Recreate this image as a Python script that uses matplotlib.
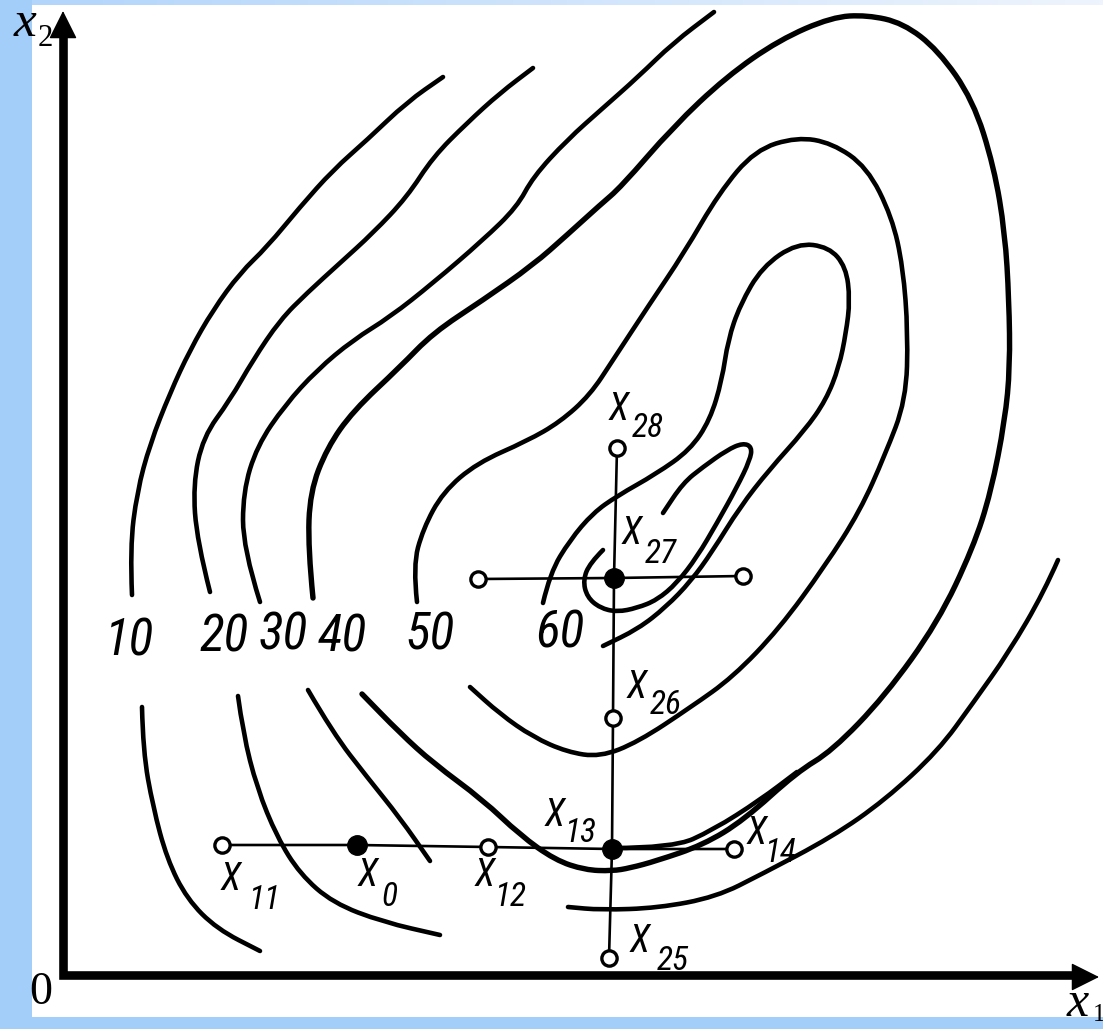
import numpy as np
import matplotlib
matplotlib.use('Agg')
import matplotlib.pyplot as plt
from matplotlib import font_manager
from matplotlib.path import Path
from matplotlib.patches import PathPatch

# ---- contour pieces (x1, x2 from the origin) ----
c10_upper = np.array([(69, 380), (67, 427), (74, 483), (87, 531), (107, 582), (127, 625),
                      (150, 665), (177, 702), (204, 728), (237, 768), (270, 805), (304, 835),
                      (344, 873), (380, 898)])
c10_lower = np.array([(79, 268), (80, 224), (90, 168), (104, 116), (124, 76), (154, 46), (197, 24)])

c20_upper = np.array([(147, 383), (134, 434), (130, 490), (140, 538), (167, 575), (190, 615),
                      (217, 655), (244, 682), (277, 712), (310, 742), (344, 778), (370, 818),
                      (404, 852), (437, 882), (470, 907)])
c20_lower = np.array([(175, 279), (180, 242), (194, 187), (214, 138), (237, 101), (270, 72),
                      (320, 53), (377, 40)])

c30_upper = np.array([(197, 373), (180, 427), (180, 483), (194, 529), (222, 570), (254, 605),
                      (290, 635), (327, 658), (370, 692), (420, 735), (454, 768), (470, 798),
                      (504, 835), (540, 867), (575, 898), (610, 932), (651, 963)])
c30_lower = np.array([(245, 285), (270, 242), (304, 198), (337, 157), (367, 114)])
c30_right = np.array([(995, 415), (981, 383), (946, 323), (910, 272), (875, 224), (822, 175),
                      (769, 138), (699, 101), (653, 78), (595, 67), (538, 65), (505, 68)])

c40 = np.array([(250, 377), (245, 427), (247, 483), (264, 527), (290, 564), (337, 608),
                (370, 642), (420, 675), (470, 710), (504, 740), (537, 770), (558, 788),
                (610, 848), (663, 898), (716, 935), (769, 958), (804, 960), (840, 952),
                (875, 925), (910, 875), (931, 808), (942, 742), (946, 675), (947, 608),
                (942, 555), (928, 483), (910, 427), (875, 353), (822, 279), (769, 224),
                (734, 203), (681, 155), (640, 130), (593, 114), (567, 107), (549, 104),
                (522, 105), (492, 115), (457, 140), (420, 175), (370, 212), (337, 242),
                (299, 281)])
c40_spur = np.array([(549, 127), (610, 127), (650, 145), (697, 175), (734, 203)])

c50 = np.array([(354, 373), (350, 409), (360, 446), (380, 483), (414, 512), (464, 534),
                (497, 553), (527, 580), (550, 615), (586, 670), (621, 722), (656, 782),
                (692, 825), (734, 838), (769, 832), (804, 808), (829, 758), (840, 708),
                (845, 642), (843, 575), (822, 520), (797, 464), (762, 409), (716, 346),
                (670, 298), (628, 268), (575, 233), (537, 218), (504, 223), (470, 238),
                (437, 261), (407, 288)])

c60 = np.array([(480, 372), (487, 402), (507, 435), (530, 462), (554, 479), (593, 501),
                (627, 525), (647, 555), (659, 595), (665, 635), (677, 670), (699, 708),
                (734, 732), (766, 728), (783, 708), (787, 675), (783, 642), (776, 608),
                (763, 575), (742, 545), (706, 505), (677, 468), (649, 423), (628, 394),
                (603, 368), (575, 346), (540, 329)])

c_peak = np.array([(540, 425), (527, 412), (520, 395), (524, 378), (537, 367), (554, 363),
                   (574, 367), (594, 375), (614, 392), (634, 418), (654, 452), (674, 488),
                   (687, 515), (689, 528), (680, 532), (664, 525), (640, 508), (620, 492),
                   (600, 462)])

contours = [c10_upper, c10_lower, c20_upper, c20_lower, c30_upper, c30_lower, c30_right,
            c40, c40_spur, c50, c60, c_peak]

level_labels = ['10', '20', '30', '40', '50', '60']
level_x = [67, 161, 220, 279, 367, 497]
level_y = [333, 337, 339, 338, 340, 342]

# ---- search path ----
row1_x = [159, 294, 425, 549, 671]
row1_y = [130, 130, 128, 126, 126]
col_x = [546, 549, 550, 551, 554]
col_y = [17, 126, 257, 397, 527]
row2_x = [415, 551, 680]
row2_y = [396, 397, 399]

open_x = [159, 425, 671, 546, 550, 554, 415, 680]
open_y = [130, 128, 126, 17, 257, 527, 396, 399]
full_x = [294, 549, 551]
full_y = [130, 126, 397]

pt_names = ['11', '0', '12', '13', '14', '25', '26', '27', '28']
pt_X = [(168, 96), (305, 99), (422, 99), (492, 160), (694, 142), (577, 33), (574, 288),
        (569, 441), (556, 566)]
pt_sub = [(201, 75), (326, 78), (447, 78), (517, 142), (717, 122), (610, 14), (603, 270),
          (598, 421), (585, 547)]


def smooth_path(pts):
    # quadratic bezier through the midpoints, read points act as control points
    verts = [pts[0]]
    codes = [Path.MOVETO]
    for i in range(1, len(pts) - 1):
        verts += [pts[i], (pts[i] + pts[i + 1]) / 2]
        codes += [Path.CURVE3, Path.CURVE3]
    verts.append(pts[-1])
    codes.append(Path.LINETO)
    return Path(verts, codes)


# pick a narrow sans for the hand lettering if one is installed
names = {f.name for f in font_manager.fontManager.ttflist}
narrow = None
for n in ['Liberation Sans Narrow', 'DejaVu Sans Condensed', 'Roboto Condensed',
          'Open Sans Condensed', 'Noto Sans Condensed']:
    if n in names:
        narrow = n
        break
if narrow:
    hand = dict(family=narrow, style='italic')
    lvl_size, x_size, sub_size = 37, 27, 24
else:
    hand = dict(family='DejaVu Sans', style='italic', stretch='condensed')
    lvl_size, x_size, sub_size = 27, 23, 17

serif = 'Liberation Serif' if 'Liberation Serif' in names else 'DejaVu Serif'

fig = plt.figure(figsize=(11.03, 10.29), dpi=100)
fig.patch.set_facecolor('#a3cefa')

# background frame: white sheet, blue border, light gradient along the top
bg = fig.add_axes([0, 0, 1, 1])
bg.set_xlim(0, 1103)
bg.set_ylim(1029, 0)
bg.axis('off')
bg.add_patch(plt.Rectangle((32, 5), 1071, 1012, facecolor='white', edgecolor='none'))
grad = np.linspace(0, 1, 256)[None, :]
bg.imshow(grad, extent=(32, 1103, 5, 0), cmap=matplotlib.colors.LinearSegmentedColormap.from_list(
    'top', ['#b2d5fb', '#eef4fd']), aspect='auto', zorder=1)

ax = fig.add_axes([0, 0, 1, 1])
ax.patch.set_alpha(0)
ax.set_xlim(-63, 1040)
ax.set_ylim(-54, 975)
ax.axis('off')

# axes with arrows
ax.plot([0, 0, 1022], [950, 0, 0], color='black', lw=6.2, solid_joinstyle='miter',
        solid_capstyle='butt', zorder=5)
ax.annotate('', xy=(0, 964), xytext=(0, 930),
            arrowprops=dict(arrowstyle='-|>,head_length=0.9,head_width=0.45', lw=1,
                            color='black', mutation_scale=20, shrinkA=0, shrinkB=0), zorder=5)
ax.annotate('', xy=(1036, -2), xytext=(1000, -2),
            arrowprops=dict(arrowstyle='-|>,head_length=0.9,head_width=0.45', lw=1,
                            color='black', mutation_scale=20, shrinkA=0, shrinkB=0), zorder=5)

for c in contours:
    lw = 3.9 if c is c40 else 3.3
    ax.add_patch(PathPatch(smooth_path(c.astype(float)), facecolor='none', edgecolor='black',
                           lw=lw, capstyle='round', joinstyle='round', zorder=3))

for lab, x, y in zip(level_labels, level_x, level_y):
    ax.text(x, y, lab, ha='center', va='center', fontsize=lvl_size, **hand, zorder=4)

ax.plot(row1_x, row1_y, color='black', lw=1.9, zorder=4)
ax.plot(col_x, col_y, color='black', lw=1.9, zorder=4)
ax.plot(row2_x, row2_y, color='black', lw=1.9, zorder=4)
ax.plot(open_x, open_y, 'o', ms=11, mfc='white', mec='black', mew=2.4, zorder=6)
ax.plot(full_x, full_y, 'o', ms=14, mfc='black', mec='black', zorder=6)

for n, (xx, xy), (sx, sy) in zip(pt_names, pt_X, pt_sub):
    ax.text(xx, xy, 'X', ha='center', va='center', fontsize=x_size, **hand, zorder=7)
    ax.text(sx, sy, n, ha='center', va='center', fontsize=sub_size, **hand, zorder=7)

# axis names
ax.text(-38, 951, 'x', ha='center', va='center', fontsize=37, family=serif, style='italic', zorder=8)
ax.text(-18, 937, '2', ha='center', va='center', fontsize=22, family=serif, zorder=8)
ax.text(-22, -18, '0', ha='center', va='center', fontsize=33, family=serif, zorder=8)
ax.text(1015, -29, 'x', ha='center', va='center', fontsize=36, family=serif, style='italic', zorder=8)
ax.text(1036, -40, '1', ha='center', va='center', fontsize=18, family=serif, zorder=8)

fig.savefig('out.png', dpi=100)
